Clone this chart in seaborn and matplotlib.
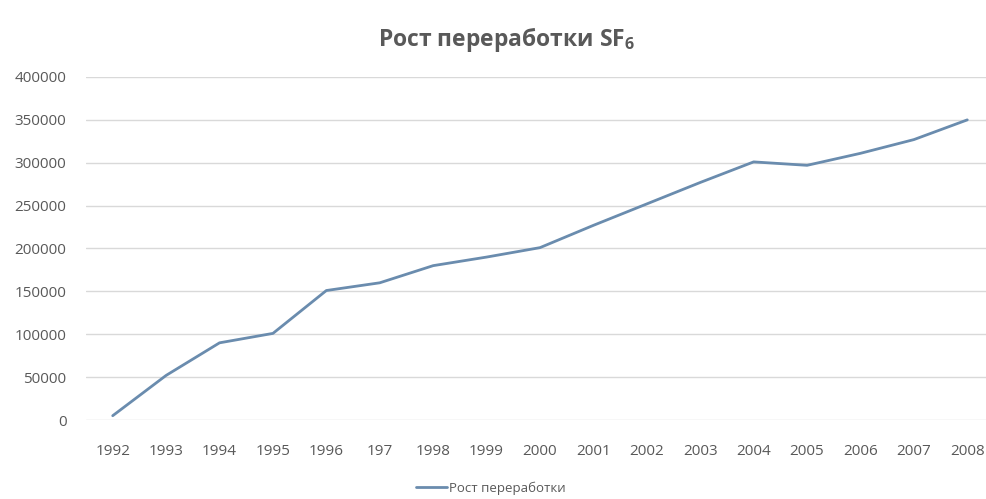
import matplotlib
matplotlib.use('Agg')
import matplotlib.pyplot as plt
import seaborn as sns
import pandas as pd

# data
years = ['1992', '1993', '1994', '1995', '1996', '197', '1998', '1999', '2000',
         '2001', '2002', '2003', '2004', '2005', '2006', '2007', '2008']
volume = [5000, 52000, 90000, 101000, 151000, 160000, 180000, 190000, 201000,
          227000, 252000, 277000, 301000, 297000, 311000, 327000, 350000]
y_ticks = [0, 50000, 100000, 150000, 200000, 250000, 300000, 350000, 400000]
series_name = 'Рост переработки'

df = pd.DataFrame({'year': years, 'value': volume})

sns.set_theme(style='white')
plt.rcParams['font.family'] = ['Open Sans', 'DejaVu Sans']
plt.rcParams['mathtext.fontset'] = 'custom'
plt.rcParams['mathtext.rm'] = 'Open Sans'
plt.rcParams['mathtext.bf'] = 'Open Sans:bold'

txt = '#595959'
fig = plt.figure(figsize=(9.87, 4.99), dpi=100)
ax = fig.add_axes([86 / 987, 1 - 420 / 499, 908 / 987, 343 / 499])

sns.lineplot(data=df, x='year', y='value', sort=False, color='#6a8cae',
             linewidth=2.0, label=series_name, ax=ax, legend=False)

ax.set_xlim(-0.5, len(years) - 0.5)
ax.set_ylim(0, 400000)
ax.set_yticks(y_ticks)
ax.set_yticklabels([str(t) for t in y_ticks])
ax.yaxis.grid(True, color='#d9d9d9', linewidth=1.0)
ax.xaxis.grid(False)
ax.set_axisbelow(True)
for s in ax.spines.values():
    s.set_visible(False)
ax.tick_params(axis='both', length=0, labelsize=11, labelcolor=txt)
ax.tick_params(axis='x', pad=17)
ax.tick_params(axis='y', pad=14)
ax.set_xlabel('')
ax.set_ylabel('')

fig.text(0.513, 0.92, 'Рост переработки SF$_\\mathbf{6}$', ha='center',
         va='center', fontsize=16.5, fontweight='bold', color=txt)

handles, labels = ax.get_legend_handles_labels()
fig.legend(handles, labels, loc='center', bbox_to_anchor=(0.497, 0.022),
           frameon=False, fontsize=9.5, labelcolor=txt, handlelength=2.4,
           handletextpad=0.1)

fig.savefig('out.png', dpi=100)
